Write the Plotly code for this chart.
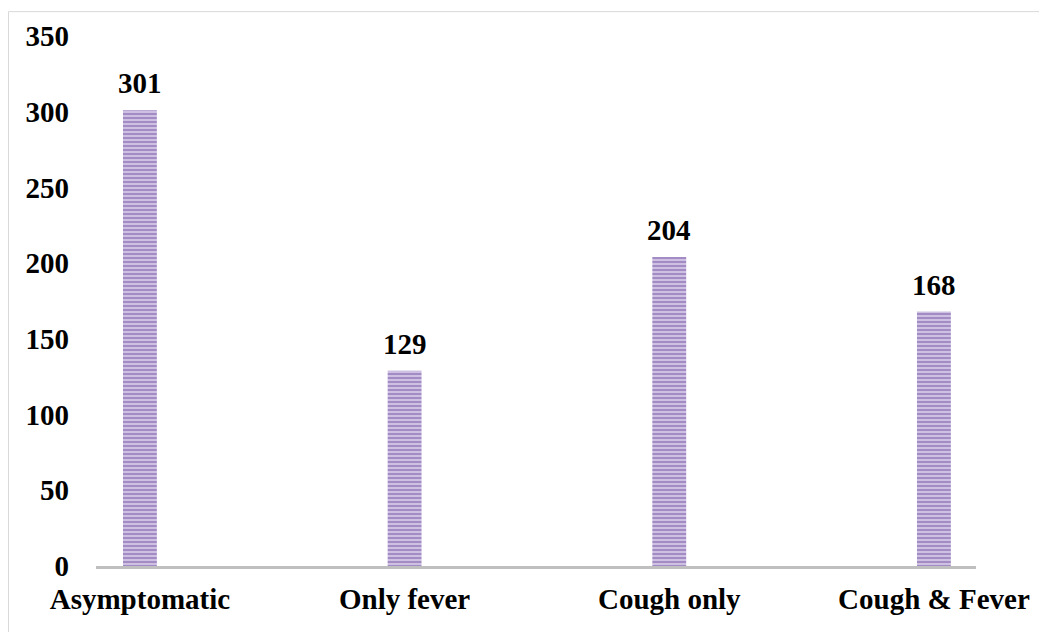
import plotly.graph_objects as go

categories = ["Asymptomatic", "Only fever", "Cough only", "Cough & Fever"]
values = [301, 129, 204, 168]
y_ticks = [0, 50, 100, 150, 200, 250, 300, 350]

FONT = "Liberation Serif, Times New Roman, serif"
x_idx = list(range(len(categories)))

W, H = 1039, 624
L, R, T, B = 88, 71, 25, 66
PW, PH = W - L - R, H - T - B

fig = go.Figure()
fig.add_trace(go.Bar(
    x=x_idx,
    y=values,
    width=0.128,
    marker=dict(
        color="#C2B2DA",
        line=dict(width=0),
        pattern=dict(shape="-", fgcolor="#7453A2", bgcolor="#D2C5E6", size=4, solidity=0.55),
    ),
    hoverinfo="x+y",
))

for xi, v in zip(x_idx, values):
    fig.add_annotation(
        x=xi, y=v, text=str(v), showarrow=False,
        yanchor="middle", yshift=27,
        font=dict(family=FONT, size=29, color="#000000", weight="bold"),
    )

# light outer frame
fig.add_shape(type="rect", xref="paper", yref="paper",
              x0=(0.5 - L) / PW, x1=(W - 0.5 - L) / PW,
              y0=-(B + 5) / PH, y1=(PH + T - 0.5) / PH,
              line=dict(color="#D9D9D9", width=1), fillcolor="rgba(0,0,0,0)", layer="below")

fig.update_layout(
    width=W, height=H,
    margin=dict(l=L, r=R, t=T, b=B),
    paper_bgcolor="white", plot_bgcolor="white",
    showlegend=False,
    font=dict(family=FONT, size=29, color="#000000", weight="bold"),
    xaxis=dict(
        range=[-0.166, 3.159],
        tickmode="array", tickvals=x_idx, ticktext=categories,
        showline=True, linecolor="#BFBFBF", linewidth=3,
        showgrid=False, zeroline=False, ticks="",
        tickfont=dict(family=FONT, size=29, color="#000000", weight="bold"),
        ticklabelstandoff=5,
    ),
    yaxis=dict(
        range=[0, 350],
        tickmode="array", tickvals=y_ticks,
        showline=False, showgrid=False, zeroline=False, ticks="",
        tickfont=dict(family=FONT, size=29, color="#000000", weight="bold"),
        ticklabelstandoff=26,
    ),
)

fig.write_html("out.html")
